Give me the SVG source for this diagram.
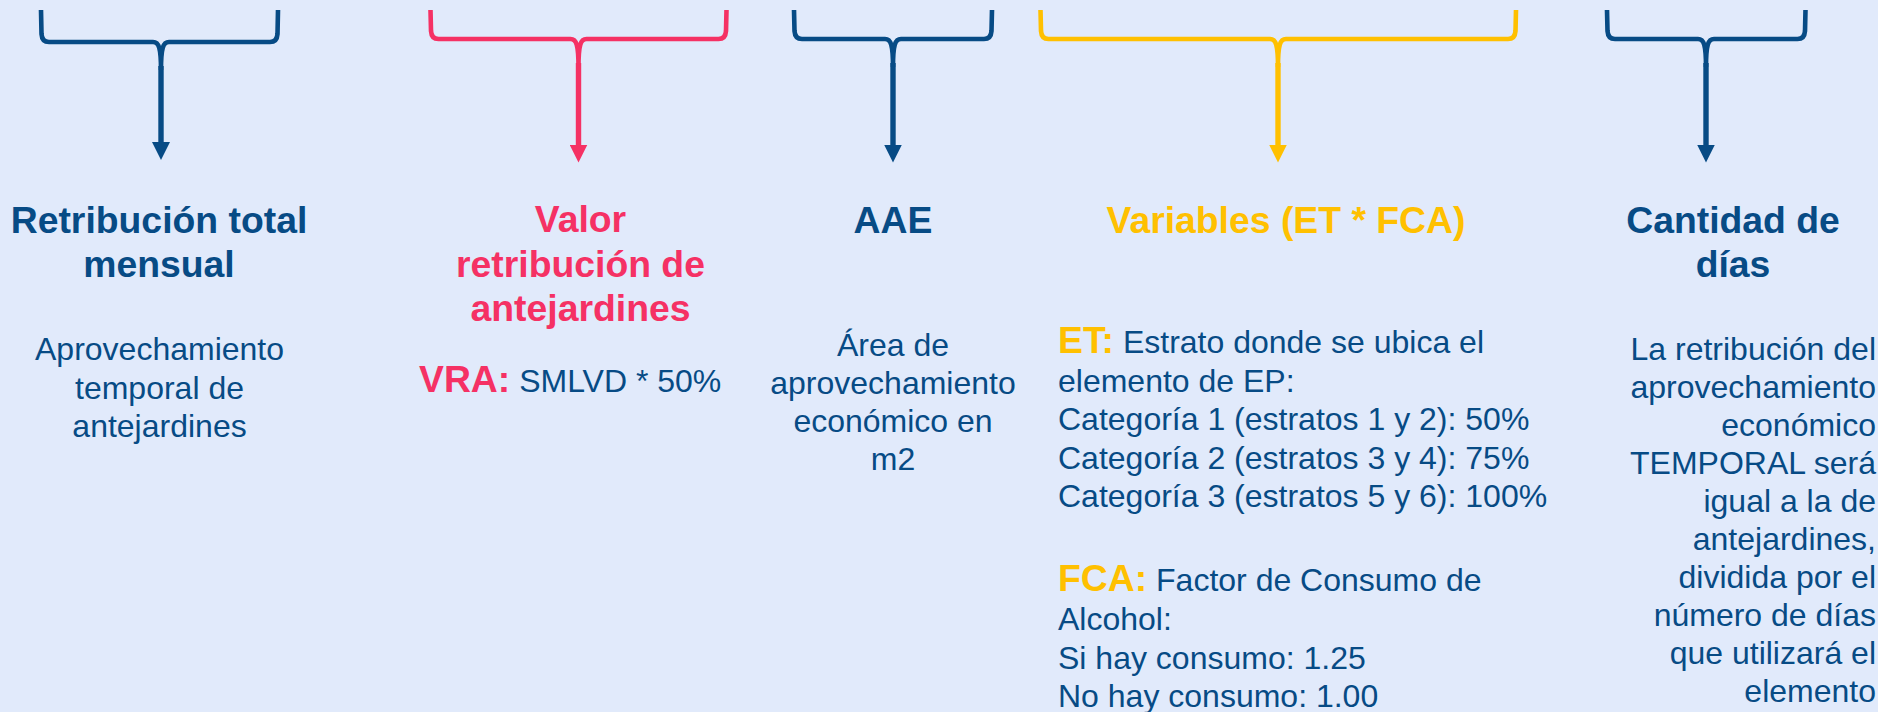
<svg xmlns="http://www.w3.org/2000/svg" width="1878" height="712" viewBox="0 0 1878 712">
<style>
  .t { font-family: "Liberation Sans", Arial, sans-serif; font-weight: bold; font-size: 37.33px; text-anchor: middle; }
  .b { font-family: "Liberation Sans", Arial, sans-serif; font-size: 32px; fill: #074b85; }
  .c { text-anchor: middle; }
  .e { text-anchor: end; }
  .k { font-weight: bold; font-size: 37.33px; }
  .blue { fill: #074b85; }
  .pink { fill: #f53164; }
  .yel { fill: #ffc000; }
  .br { fill: none; stroke-width: 4.6; stroke-linecap: butt; stroke-linejoin: round; }
  .st { fill: none; stroke-width: 5.4; }
</style>
<defs>
  <marker id="ab" viewBox="0 0 18 18" markerWidth="18" markerHeight="18" markerUnits="userSpaceOnUse" refX="1" refY="9" orient="auto"><path d="M0,0 L18,9 L0,18 Z" fill="#074b85"/></marker>
  <marker id="ap" viewBox="0 0 18 18" markerWidth="18" markerHeight="18" markerUnits="userSpaceOnUse" refX="1" refY="9" orient="auto"><path d="M0,0 L18,9 L0,18 Z" fill="#f53164"/></marker>
  <marker id="ay" viewBox="0 0 18 18" markerWidth="18" markerHeight="18" markerUnits="userSpaceOnUse" refX="1" refY="9" orient="auto"><path d="M0,0 L18,9 L0,18 Z" fill="#ffc000"/></marker>
</defs>
<rect x="0" y="0" width="1878" height="712" fill="#e1eafb"/>

<g id="connectors">
  <!-- bracket 1 -->
  <path class="br" stroke="#074b85" d="M41,10 L41.5,34 Q42,42 49,42 L153,42 C159,42 161,48 161,70 M278,10 L277.5,34 Q277,42 270,42 L169,42 C163,42 161,48 161,70"/>
  <line class="st" stroke="#074b85" x1="161" y1="66" x2="161" y2="143" marker-end="url(#ab)"/>
  <!-- bracket 2 -->
  <path class="br" stroke="#f53164" d="M430.5,10 L431,31 Q431.5,39 438.5,39 L570.5,39 C576.5,39 578.5,45 578.5,67 M726.5,10 L726,31 Q725.5,39 718.5,39 L586.5,39 C580.5,39 578.5,45 578.5,67"/>
  <line class="st" stroke="#f53164" x1="578.5" y1="63" x2="578.5" y2="145.5" marker-end="url(#ap)"/>
  <!-- bracket 3 -->
  <path class="br" stroke="#074b85" d="M794,10 L794.5,31 Q795,39 802,39 L885,39 C891,39 893,45 893,67 M992,10 L991.5,31 Q991,39 984,39 L901,39 C895,39 893,45 893,67"/>
  <line class="st" stroke="#074b85" x1="893" y1="63" x2="893" y2="145.5" marker-end="url(#ab)"/>
  <!-- bracket 4 -->
  <path class="br" stroke="#ffc000" d="M1040.5,10 L1041,31 Q1041.5,39 1048.5,39 L1270,39 C1276,39 1278,45 1278,67 M1516,10 L1515.5,31 Q1515,39 1508,39 L1286,39 C1280,39 1278,45 1278,67"/>
  <line class="st" stroke="#ffc000" x1="1278" y1="63" x2="1278" y2="145.5" marker-end="url(#ay)"/>
  <!-- bracket 5 -->
  <path class="br" stroke="#074b85" d="M1607,10 L1607.5,31 Q1608,39 1615,39 L1698,39 C1704,39 1706,45 1706,67 M1805.5,10 L1805,31 Q1804.5,39 1797.5,39 L1714,39 C1708,39 1706,45 1706,67"/>
  <line class="st" stroke="#074b85" x1="1706" y1="63" x2="1706" y2="145.5" marker-end="url(#ab)"/>
</g>

<g id="node-retribucion">
  <text class="t blue" x="159" y="232.5">Retribución total</text>
  <text class="t blue" x="159" y="277">mensual</text>
  <text class="b c" x="159.5" y="360">Aprovechamiento</text>
  <text class="b c" x="159.5" y="398.5">temporal de</text>
  <text class="b c" x="159.5" y="437">antejardines</text>
</g>

<g id="node-valor">
  <text class="t pink" x="580.5" y="232">Valor</text>
  <text class="t pink" x="580.5" y="276.5">retribución de</text>
  <text class="t pink" x="580.5" y="321">antejardines</text>
  <text class="b" x="419" y="392"><tspan class="k pink">VRA:</tspan> SMLVD * 50%</text>
</g>

<g id="node-aae">
  <text class="t blue" x="893" y="232.5">AAE</text>
  <text class="b c" x="893" y="355.5">Área de</text>
  <text class="b c" x="893" y="393.5">aprovechamiento</text>
  <text class="b c" x="893" y="431.5">económico en</text>
  <text class="b c" x="893" y="469.5">m2</text>
</g>

<g id="node-variables">
  <text class="t yel" x="1286" y="232.5">Variables (ET * FCA)</text>
  <text class="b" x="1058" y="353.3"><tspan class="k yel">ET:</tspan> Estrato donde se ubica el</text>
  <text class="b" x="1058" y="391.7">elemento de EP:</text>
  <text class="b" x="1058" y="430.3">Categoría 1 (estratos 1 y 2): 50%</text>
  <text class="b" x="1058" y="468.8">Categoría 2 (estratos 3 y 4): 75%</text>
  <text class="b" x="1058" y="507.3">Categoría 3 (estratos 5 y 6): 100%</text>
  <text class="b" x="1058" y="590.7"><tspan class="k yel">FCA:</tspan> Factor de Consumo de</text>
  <text class="b" x="1058" y="630">Alcohol:</text>
  <text class="b" x="1058" y="668.5">Si hay consumo: 1.25</text>
  <text class="b" x="1058" y="706.8">No hay consumo: 1.00</text>
</g>

<g id="node-dias">
  <text class="t blue" x="1733" y="232.5">Cantidad de</text>
  <text class="t blue" x="1733" y="277">días</text>
  <text class="b e" x="1876" y="360">La retribución del</text>
  <text class="b e" x="1876" y="398">aprovechamiento</text>
  <text class="b e" x="1876" y="436">económico</text>
  <text class="b e" x="1876" y="474">TEMPORAL será</text>
  <text class="b e" x="1876" y="512">igual a la de</text>
  <text class="b e" x="1876" y="550">antejardines,</text>
  <text class="b e" x="1876" y="588">dividida por el</text>
  <text class="b e" x="1876" y="626">número de días</text>
  <text class="b e" x="1876" y="664">que utilizará el</text>
  <text class="b e" x="1876" y="702">elemento</text>
</g>
</svg>
